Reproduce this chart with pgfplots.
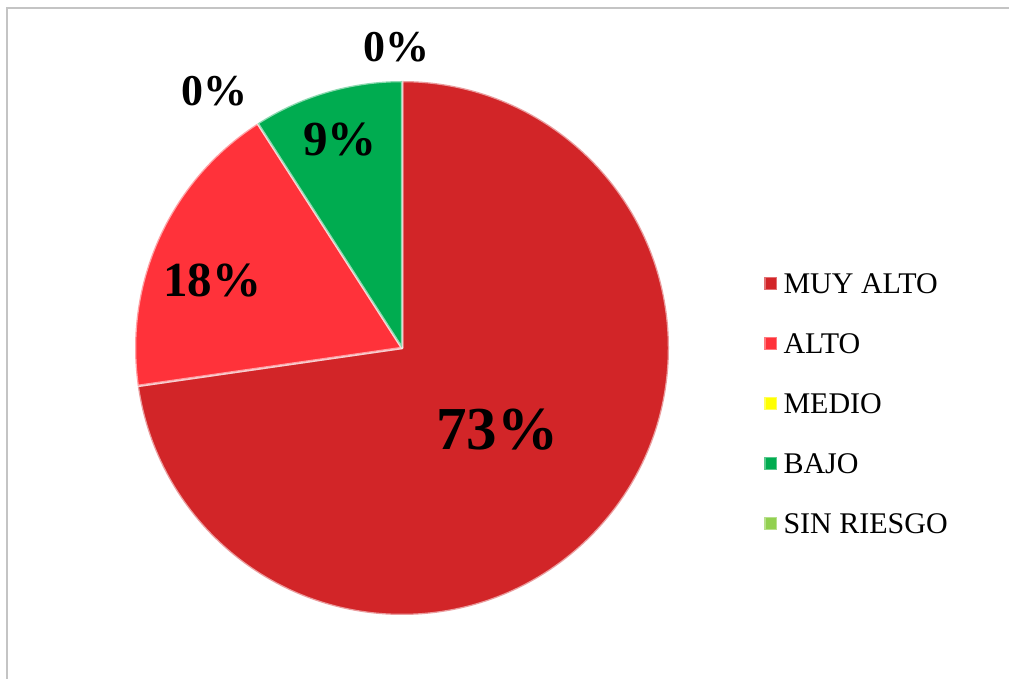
\documentclass[border=0pt]{standalone}
\usepackage{pgfplots}
\pgfplotsset{compat=1.18}
\usepackage{pgfplotstable}
\usepackage{fontspec}
\setmainfont{Liberation Serif}
\definecolor{cMA}{RGB}{210,37,40}
\definecolor{cAL}{RGB}{255,50,58}
\definecolor{cME}{RGB}{255,255,0}
\definecolor{cBA}{RGB}{0,172,80}
\definecolor{cSR}{RGB}{146,208,80}
\definecolor{frame}{RGB}{196,196,196}

\pgfplotstableread[col sep=comma]{
label,value
MUY ALTO,72.73
ALTO,18.18
MEDIO,0
BAJO,9.09
SIN RIESGO,0
}\piedata

\newcommand\legsq[1]{\addlegendimage{legend image code/.code={\filldraw[fill=#1, draw=white, draw opacity=0.35, line width=2.5bp] (0bp,-6.5bp) rectangle (13bp,6.5bp);}}}
\tikzset{slice/.style={draw=white, draw opacity=0.55, line width=2.5bp, line join=round}}

\begin{document}
\begin{tikzpicture}
\pgfplotstablegetelem{0}{value}\of\piedata \edef\vA{\pgfplotsretval}
\pgfplotstablegetelem{1}{value}\of\piedata \edef\vB{\pgfplotsretval}
\pgfplotstablegetelem{2}{value}\of\piedata \edef\vC{\pgfplotsretval}
\pgfplotstablegetelem{3}{value}\of\piedata \edef\vD{\pgfplotsretval}
\pgfplotstablegetelem{4}{value}\of\piedata \edef\vE{\pgfplotsretval}
\pgfmathsetmacro\aA{90}
\pgfmathsetmacro\aB{\aA-3.6*\vA}
\pgfmathsetmacro\aC{\aB-3.6*\vB}
\pgfmathsetmacro\aD{\aC-3.6*\vC}
\pgfmathsetmacro\aE{\aD-3.6*\vD}
\pgfmathsetmacro\aF{\aE-3.6*\vE}
\begin{axis}[
  at={(0,0)}, anchor=south west, scale only axis,
  width=1009bp, height=679bp,
  xmin=0, xmax=1009, ymin=0, ymax=679,
  hide axis, clip=false,
  legend cell align=left,
  legend style={draw=none, fill=none, inner sep=0pt, outer sep=0pt,
    at={(axis cs:763,405.5)}, anchor=north west,
    row sep=40bp,
    nodes={inner sep=0pt, text height=20bp, text depth=0bp,
      font=\fontsize{30bp}{36bp}\selectfont},
    /tikz/every odd column/.append style={column sep=5bp}},
]
\legsq{cMA}\addlegendentry{MUY ALTO}
\legsq{cAL}\addlegendentry{ALTO}
\legsq{cME}\addlegendentry{MEDIO}
\legsq{cBA}\addlegendentry{BAJO}
\legsq{cSR}\addlegendentry{SIN RIESGO}

\filldraw[slice, fill=cMA] (axis cs:402,331) -- ++(\aA:267bp) arc[start angle=\aA, end angle=\aB, radius=267bp] -- cycle;
\filldraw[slice, fill=cAL] (axis cs:402,331) -- ++(\aB:267bp) arc[start angle=\aB, end angle=\aC, radius=267bp] -- cycle;
\filldraw[slice, fill=cBA] (axis cs:402,331) -- ++(\aD:267bp) arc[start angle=\aD, end angle=\aE, radius=267bp] -- cycle;

\node[font=\bfseries\fontsize{61bp}{72bp}\selectfont] at (axis cs:497,249) {73\%};
\node[font=\bfseries\fontsize{49bp}{60bp}\selectfont] at (axis cs:212,398) {18\%};
\node[font=\bfseries\fontsize{49bp}{60bp}\selectfont] at (axis cs:340,539) {9\%};
\node[font=\bfseries\fontsize{44bp}{54bp}\selectfont] at (axis cs:214,588) {0\%};
\node[font=\bfseries\fontsize{44bp}{54bp}\selectfont] at (axis cs:396,632) {0\%};
\end{axis}
\draw[frame, line width=2bp] (7bp,0bp) -- (7bp,671bp) -- (1009bp,671bp);
\pgfresetboundingbox
\path (0bp,0bp) rectangle (1009bp,679bp);
\end{tikzpicture}
\end{document}
